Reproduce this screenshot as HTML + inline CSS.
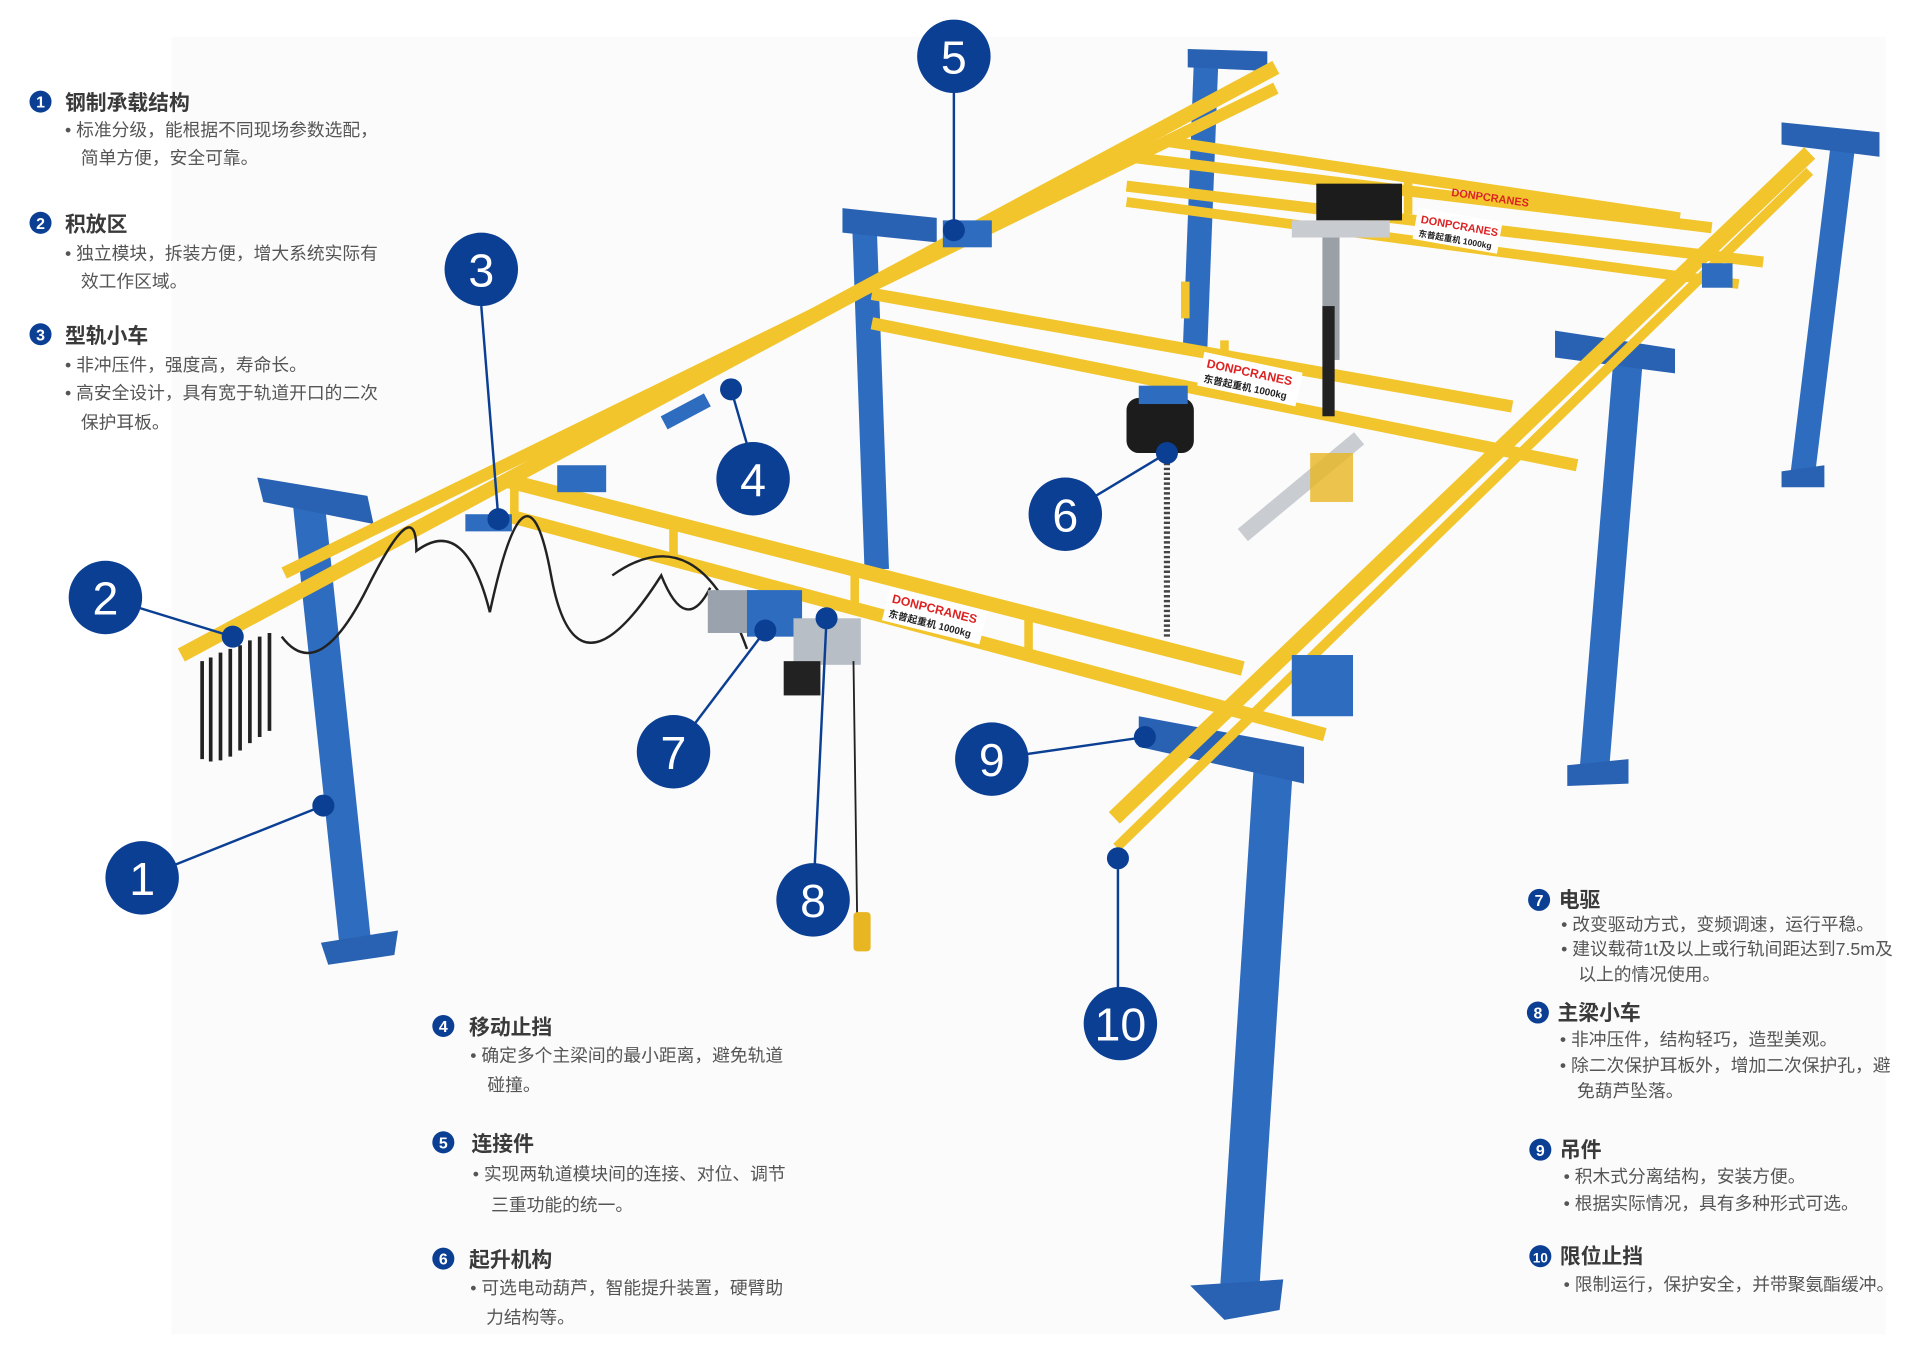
<!DOCTYPE html>
<html><head><meta charset="utf-8"><style>
html,body{margin:0;padding:0;background:#fff;}
svg{display:block}
.t{font-family:"Liberation Sans","Noto Sans CJK SC",sans-serif;font-weight:bold;font-size:17px;fill:#3a3a3a}
.b{font-family:"Liberation Sans","Noto Sans CJK SC",sans-serif;font-size:14.5px;fill:#555}
.n{font-family:"Liberation Sans",sans-serif;font-size:38px;fill:#fff;text-anchor:middle}
.sn{font-family:"Liberation Sans",sans-serif;font-size:13px;fill:#fff;text-anchor:middle;font-weight:bold}
.y{stroke:#f2c52c;stroke-linecap:butt;fill:none}
.bl{stroke:#2e6cc0;fill:none}
.lead{stroke:#0b3f94;stroke-width:2;fill:none}
</style></head><body>
<svg width="1920" height="1348" viewBox="0 0 1568 1101" xmlns="http://www.w3.org/2000/svg">
<rect width="1568" height="1101" fill="#fff"/>
<rect x="140" y="30" width="1400" height="1060" fill="#fbfbfb"/>

<g class="bl">
<line x1="985" y1="50" x2="976" y2="285" stroke-width="20"/>
<line x1="1505" y1="120" x2="1472" y2="390" stroke-width="20"/>
<line x1="706" y1="185" x2="716" y2="465" stroke-width="20"/>
<line x1="1330" y1="290" x2="1302" y2="630" stroke-width="24"/>
<line x1="252" y1="410" x2="290" y2="770" stroke-width="26"/>
<line x1="1040" y1="625" x2="1012" y2="1060" stroke-width="32"/>
</g>
<g fill="#2a62b3">
<polygon points="970,40 1035,42 1035,58 970,55"/>
<polygon points="1455,100 1535,108 1535,128 1455,118"/>
<polygon points="688,170 765,178 765,198 688,190"/>
<polygon points="1270,270 1368,285 1368,305 1270,292"/>
<polygon points="210,390 300,405 305,428 215,410"/>
<polygon points="930,585 1065,610 1065,640 930,610"/>
<polygon points="262,770 325,760 322,780 268,788"/>
<polygon points="1280,625 1330,620 1330,640 1280,642"/>
<polygon points="1455,385 1490,380 1490,398 1455,398"/>
<polygon points="972,1050 1048,1045 1045,1070 1000,1078"/>
</g>

<g class="y">
<line x1="950" y1="115" x2="1372" y2="178" stroke-width="9"/>
<line x1="920" y1="128" x2="1398" y2="186" stroke-width="9"/>
<line x1="920" y1="152" x2="1440" y2="214" stroke-width="9"/>
<line x1="920" y1="165" x2="1420" y2="232" stroke-width="8"/>
<line x1="712" y1="240" x2="1235" y2="332" stroke-width="10"/>
<line x1="712" y1="264" x2="1288" y2="380" stroke-width="10"/>
<line x1="148" y1="535" x2="1042" y2="55" stroke-width="12"/>
<line x1="232" y1="468" x2="1042" y2="72" stroke-width="10"/>
<line x1="910" y1="668" x2="1478" y2="125" stroke-width="13"/>
<line x1="912" y1="692" x2="1478" y2="140" stroke-width="8"/>
<line x1="412" y1="392" x2="1015" y2="546" stroke-width="12"/>
<line x1="418" y1="422" x2="1082" y2="600" stroke-width="11"/>
<line x1="550" y1="432" x2="550" y2="460" stroke-width="7"/>
<line x1="698" y1="470" x2="698" y2="500" stroke-width="7"/>
<line x1="840" y1="505" x2="840" y2="535" stroke-width="7"/>
<line x1="420" y1="392" x2="420" y2="425" stroke-width="7"/>
<line x1="968" y1="230" x2="968" y2="260" stroke-width="7"/>
<line x1="1150" y1="145" x2="1150" y2="175" stroke-width="7"/>
<line x1="1000" y1="278" x2="1000" y2="305" stroke-width="7"/>
</g>
<g font-family="Liberation Sans,Noto Sans CJK SC,sans-serif" font-weight="bold">
<g transform="translate(728,492) rotate(14)"><rect x="-4" y="-12" width="82" height="28" fill="#fff"/><text font-size="10" fill="#d22">DONPCRANES</text><text y="12" font-size="8" fill="#222">东普起重机 1000kg</text></g>
<g transform="translate(985,300) rotate(12)"><rect x="-4" y="-12" width="82" height="28" fill="#fff"/><text font-size="10" fill="#d22">DONPCRANES</text><text y="12" font-size="8" fill="#222">东普起重机 1000kg</text></g>
<g transform="translate(1160,182) rotate(10)"><rect x="-4" y="-12" width="70" height="26" fill="#fff"/><text font-size="9" fill="#d22">DONPCRANES</text><text y="11" font-size="7" fill="#222">东普起重机 1000kg</text></g>
<text x="1185" y="160" font-size="9" fill="#d22" transform="rotate(8 1185 160)">DONPCRANES</text>
</g>

<g stroke="#222" stroke-width="3" fill="none">
<path d="M165 540 v80 M172 537 v85 M180 533 v88 M188 530 v88 M196 527 v86 M204 523 v84 M212 520 v82 M220 517 v80"/>
<path d="M230 520 Q260 560 300 480 T340 450 Q380 420 400 500 Q430 360 450 470 T540 470 Q560 520 580 480" stroke-width="2"/>
<path d="M500 470 Q570 420 610 530" stroke-width="2"/>
</g>
<rect x="578" y="482" width="70" height="35" fill="#9aa3ad"/>
<rect x="610" y="482" width="45" height="38" fill="#2e6cc0"/>
<rect x="648" y="505" width="55" height="38" fill="#b8bec6"/>
<rect x="640" y="540" width="30" height="28" fill="#222"/>
<line x1="697" y1="540" x2="700" y2="750" stroke="#222" stroke-width="1.5"/>
<rect x="697" y="745" width="14" height="32" rx="3" fill="#e8b622"/>
<rect x="920" y="325" width="55" height="45" rx="10" fill="#1c1c1c"/>
<rect x="930" y="315" width="40" height="15" fill="#2e6cc0"/>
<line x1="953" y1="370" x2="953" y2="520" stroke="#444" stroke-width="5" stroke-dasharray="2 2"/>
<rect x="1075" y="150" width="70" height="30" fill="#1c1c1c"/>
<rect x="1055" y="180" width="80" height="14" fill="#c8ccd0"/>
<rect x="1080" y="194" width="14" height="100" fill="#9aa0a6"/>
<rect x="1080" y="250" width="10" height="90" fill="#222"/>
<line x1="1015" y1="437" x2="1110" y2="358" stroke="#c9cdd2" stroke-width="13"/>
<rect x="1070" y="370" width="35" height="40" fill="#e8b622" opacity=".8"/>

<g fill="#2e6cc0">
<rect x="380" y="420" width="38" height="14"/><rect x="540" y="330" width="40" height="12" transform="rotate(-28 560 336)"/>
<rect x="455" y="380" width="40" height="22"/><rect x="770" y="180" width="40" height="22"/>
<rect x="1055" y="535" width="50" height="50"/><rect x="1390" y="215" width="25" height="20"/>
</g>

<g class="lead">
<line x1="779" y1="76" x2="779" y2="188"/>
<line x1="393" y1="250" x2="407" y2="424"/>
<line x1="615" y1="380" x2="597" y2="318"/>
<line x1="86" y1="488" x2="190" y2="520"/>
<line x1="870" y1="420" x2="953" y2="370"/>
<line x1="550" y1="614" x2="625" y2="515"/>
<line x1="810" y1="620" x2="935" y2="602"/>
<line x1="664" y1="735" x2="675" y2="505"/>
<line x1="116" y1="717" x2="264" y2="658"/>
<line x1="913" y1="836" x2="913" y2="701"/>
</g>
<g fill="#0b3f94">
<circle cx="779" cy="188" r="9"/><circle cx="407" cy="424" r="9"/><circle cx="597" cy="318" r="9"/>
<circle cx="190" cy="520" r="9"/><circle cx="953" cy="370" r="9"/><circle cx="625" cy="515" r="9"/>
<circle cx="935" cy="602" r="9"/><circle cx="675" cy="505" r="9"/><circle cx="264" cy="658" r="9"/><circle cx="913" cy="701" r="9"/>
<circle cx="779" cy="46" r="30"/><circle cx="393" cy="220" r="30"/><circle cx="615" cy="391" r="30"/>
<circle cx="86" cy="488" r="30"/><circle cx="870" cy="420" r="30"/><circle cx="550" cy="614" r="30"/>
<circle cx="810" cy="620" r="30"/><circle cx="664" cy="735" r="30"/><circle cx="116" cy="717" r="30"/><circle cx="915" cy="836" r="30"/>
</g>
<g class="n">
<text x="779" y="60">5</text><text x="393" y="234">3</text><text x="615" y="405">4</text>
<text x="86" y="502">2</text><text x="870" y="434">6</text><text x="550" y="628">7</text>
<text x="810" y="634">9</text><text x="664" y="749">8</text><text x="116" y="731">1</text><text x="915" y="850">10</text>
</g>

<g fill="#0b3f94">
<circle cx="33" cy="83" r="9"/><circle cx="33" cy="182" r="9"/><circle cx="33" cy="273" r="9"/>
<circle cx="362" cy="838" r="9"/><circle cx="362" cy="933" r="9"/><circle cx="362" cy="1028" r="9"/>
<circle cx="1257" cy="735" r="9"/><circle cx="1256" cy="827" r="9"/><circle cx="1258" cy="939" r="9"/><circle cx="1258" cy="1026" r="9"/>
</g>
<g class="sn">
<text x="33" y="88">1</text><text x="33" y="187">2</text><text x="33" y="278">3</text>
<text x="362" y="843">4</text><text x="362" y="938">5</text><text x="362" y="1033">6</text>
<text x="1257" y="740">7</text><text x="1256" y="832">8</text><text x="1258" y="944">9</text><text x="1258" y="1031" font-size="11">10</text>
</g>
<g class="t">
<text x="53" y="90">钢制承载结构</text><text x="53" y="189">积放区</text><text x="53" y="280">型轨小车</text>
<text x="383" y="845">移动止挡</text><text x="385" y="940">连接件</text><text x="383" y="1035">起升机构</text>
<text x="1273" y="741">电驱</text><text x="1272" y="833">主梁小车</text><text x="1274" y="945">吊件</text><text x="1274" y="1032">限位止挡</text>
</g>
<g class="b">
<text x="53" y="111">• 标准分级，能根据不同现场参数选配，</text><text x="66" y="134">简单方便，安全可靠。</text>
<text x="53" y="212">• 独立模块，拆装方便，增大系统实际有</text><text x="66" y="235">效工作区域。</text>
<text x="53" y="303">• 非冲压件，强度高，寿命长。</text>
<text x="53" y="326">• 高安全设计，具有宽于轨道开口的二次</text><text x="66" y="350">保护耳板。</text>
<text x="384" y="867">• 确定多个主梁间的最小距离，避免轨道</text><text x="398" y="891">碰撞。</text>
<text x="386" y="964">• 实现两轨道模块间的连接、对位、调节</text><text x="401" y="989">三重功能的统一。</text>
<text x="384" y="1057">• 可选电动葫芦，智能提升装置，硬臂助</text><text x="397" y="1081">力结构等。</text>
<text x="1275" y="760">• 改变驱动方式，变频调速，运行平稳。</text>
<text x="1275" y="780">• 建议载荷1t及以上或行轨间距达到7.5m及</text><text x="1289" y="801">以上的情况使用。</text>
<text x="1274" y="854">• 非冲压件，结构轻巧，造型美观。</text>
<text x="1274" y="875">• 除二次保护耳板外，增加二次保护孔，避</text><text x="1288" y="896">免葫芦坠落。</text>
<text x="1277" y="966">• 积木式分离结构，安装方便。</text>
<text x="1277" y="988">• 根据实际情况，具有多种形式可选。</text>
<text x="1277" y="1054">• 限制运行，保护安全，并带聚氨酯缓冲。</text>
</g>
</svg>
</body></html>
